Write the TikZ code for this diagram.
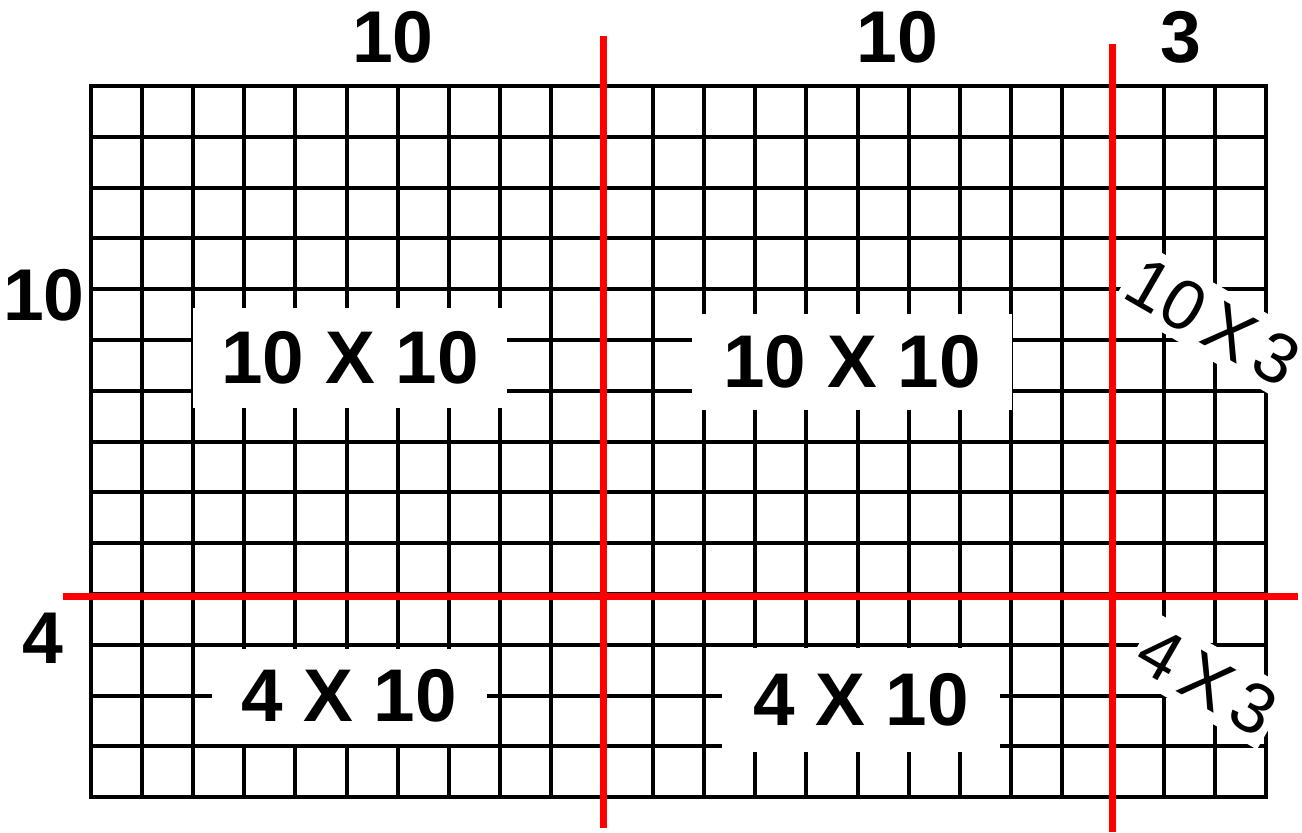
\documentclass[tikz,border=0pt]{standalone}
\usepackage{fontspec}
\setmainfont{Liberation Sans}
\newcommand{\tsp}{\hspace{0.15em}}
\begin{document}
\begin{tikzpicture}[x=0.75pt,y=-0.75pt,
  gridline/.style={black,line width=3pt,line cap=rect},
  redline/.style={red,line width=5.25pt},
  dimlabel/.style={font=\fontsize{55}{60}\selectfont\bfseries, inner sep=0pt},
  blocklabel/.style={fill=white, inner sep=0pt, font=\fontsize{56}{60}\selectfont\bfseries},
  sidelabel/.style={fill=white, rotate=-30, inner xsep=3pt, inner ysep=7pt, font=\fontsize{53}{58}\selectfont}]
\useasboundingbox (0,0) rectangle (1302,832);
% grid 23 x 14
\foreach \i in {0,...,23} \draw[gridline] ({91+51.1*\i},86) -- ({91+51.1*\i},797);
\foreach \j in {0,...,14} \draw[gridline] (91,{86+50.8*\j}) -- (1266.3,{86+50.8*\j});
% white label boxes
\node[blocklabel, minimum width=314*0.75pt, minimum height=100*0.75pt] (b1) at (350,358) {10 X 10};
\node[blocklabel, minimum width=320*0.75pt, minimum height=96*0.75pt] (b2) at (852,362) {10 X 10};
\node[blocklabel, minimum width=275*0.75pt, minimum height=95*0.75pt] (b3) at (349,696) {4 X 10};
\node[blocklabel, minimum width=278*0.75pt, minimum height=104*0.75pt] (b4) at (861,700) {4 X 10};
% rotated labels
\node[sidelabel] (r1) at (1213,322) {10\tsp X\tsp 3};
\node[sidelabel] (r2) at (1207,681) {4\tsp X\tsp 3};
% red dividing lines
\draw[redline] (603,36) -- (603,828);
\draw[redline] (1112,44) -- (1112,832);
\draw[redline] (63,596) -- (1298,596);
% dimension labels
\node[dimlabel] (top1) at (393,37) {10};
\node[dimlabel] (top2) at (897,37) {10};
\node[dimlabel] (top3) at (1181,37) {3};
\node[dimlabel] (left1) at (44,295) {10};
\node[dimlabel] (left2) at (43,638) {4};
\end{tikzpicture}
\end{document}
